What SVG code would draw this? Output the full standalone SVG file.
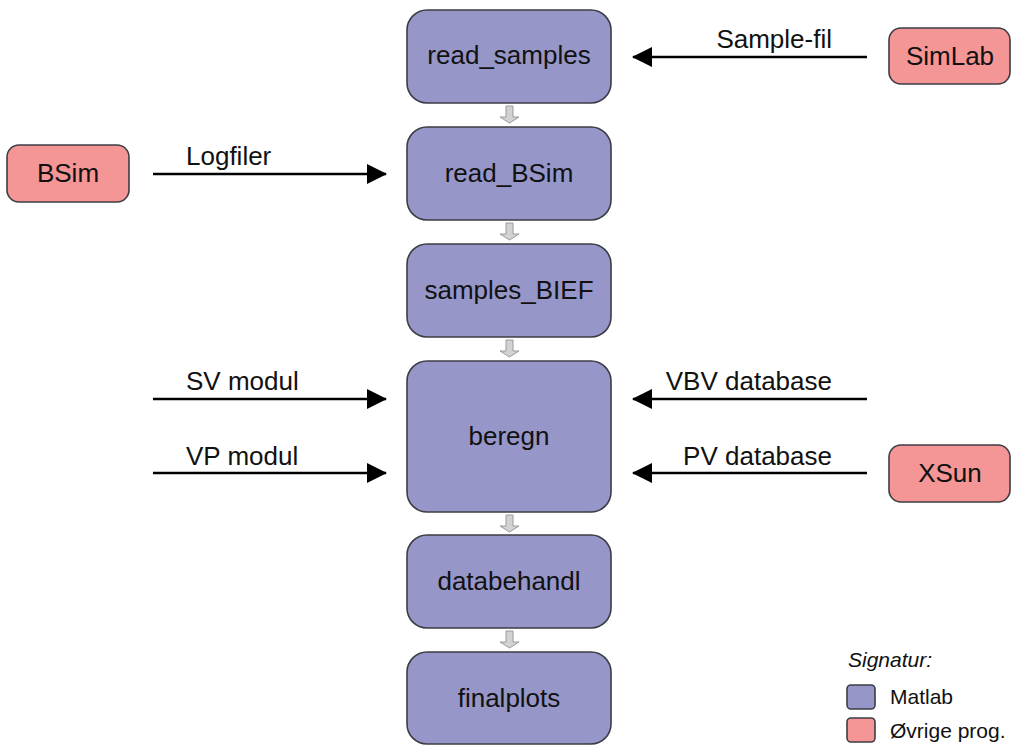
<svg xmlns="http://www.w3.org/2000/svg" width="1011" height="745" viewBox="0 0 1011 745">
<defs>
<style>
.m{fill:#9696c9;stroke:#3c3c44;stroke-width:1.6}
.o{fill:#f49596;stroke:#3c3c44;stroke-width:1.6}
.t{font-family:"Liberation Sans",Arial,sans-serif;font-size:26px;fill:#111;text-anchor:middle}
.l{font-family:"Liberation Sans",Arial,sans-serif;font-size:26px;fill:#111}
.lg{font-family:"Liberation Sans",Arial,sans-serif;font-size:21px;fill:#111}
.c{stroke:#000;stroke-width:2.5;fill:none;marker-end:url(#ah)}
.g{fill:#d2d2d2;stroke:#9a9a9a;stroke-width:1}
</style>
<marker id="ah" viewBox="0 0 20 20" refX="19" refY="10" markerWidth="8" markerHeight="8" markerUnits="strokeWidth" orient="auto">
<path d="M0,0 L20,10 L0,20 Z" fill="#000"/>
</marker>
<path id="ga" d="M506,0 h7 v11 h6 l-9.5,6 l-9.5,-6 h6 Z"/>
</defs>
<rect width="1011" height="745" fill="#fff"/>
<g id="connectors">
<line class="c" x1="153" y1="174" x2="386" y2="174"/>
<line class="c" x1="867" y1="57" x2="633" y2="57"/>
<line class="c" x1="153" y1="399" x2="386" y2="399"/>
<line class="c" x1="153" y1="473" x2="386" y2="473"/>
<line class="c" x1="867" y1="399" x2="633" y2="399"/>
<line class="c" x1="867" y1="473" x2="633" y2="473"/>
<use href="#ga" class="g" y="106"/>
<use href="#ga" class="g" y="223"/>
<use href="#ga" class="g" y="340"/>
<use href="#ga" class="g" y="515"/>
<use href="#ga" class="g" y="631"/>
<text class="l" x="186" y="165">Logfiler</text>
<text class="l" x="832" y="48" text-anchor="end">Sample-fil</text>
<text class="l" x="186" y="390">SV modul</text>
<text class="l" x="186" y="465">VP modul</text>
<text class="l" x="832" y="390" text-anchor="end">VBV database</text>
<text class="l" x="832" y="465" text-anchor="end">PV database</text>
</g>
<g id="read_samples"><rect class="m" x="407" y="10" width="204" height="93" rx="20"/><text class="t" x="509" y="64">read_samples</text></g>
<g id="read_BSim"><rect class="m" x="407" y="127" width="204" height="93" rx="20"/><text class="t" x="509" y="182">read_BSim</text></g>
<g id="samples_BIEF"><rect class="m" x="407" y="244" width="204" height="93" rx="20"/><text class="t" x="509" y="299">samples_BIEF</text></g>
<g id="beregn"><rect class="m" x="407" y="361" width="204" height="151" rx="20"/><text class="t" x="509" y="445">beregn</text></g>
<g id="databehandl"><rect class="m" x="407" y="535" width="204" height="93" rx="20"/><text class="t" x="509" y="590">databehandl</text></g>
<g id="finalplots"><rect class="m" x="407" y="652" width="204" height="92" rx="20"/><text class="t" x="509" y="707">finalplots</text></g>
<g id="BSim"><rect class="o" x="7" y="145" width="122" height="57" rx="12"/><text class="t" x="68" y="182">BSim</text></g>
<g id="SimLab"><rect class="o" x="889" y="28" width="121" height="56" rx="12"/><text class="t" x="950" y="65">SimLab</text></g>
<g id="XSun"><rect class="o" x="889" y="445" width="121" height="57" rx="12"/><text class="t" x="950" y="482">XSun</text></g>
<g id="legend">
<text class="lg" x="848" y="667" font-style="italic">Signatur:</text>
<rect class="m" x="847" y="685" width="28" height="24" rx="4"/>
<text class="lg" x="890" y="704">Matlab</text>
<rect class="o" x="847" y="718" width="28" height="24" rx="4"/>
<text class="lg" x="890" y="738">Øvrige prog.</text>
</g>
</svg>
